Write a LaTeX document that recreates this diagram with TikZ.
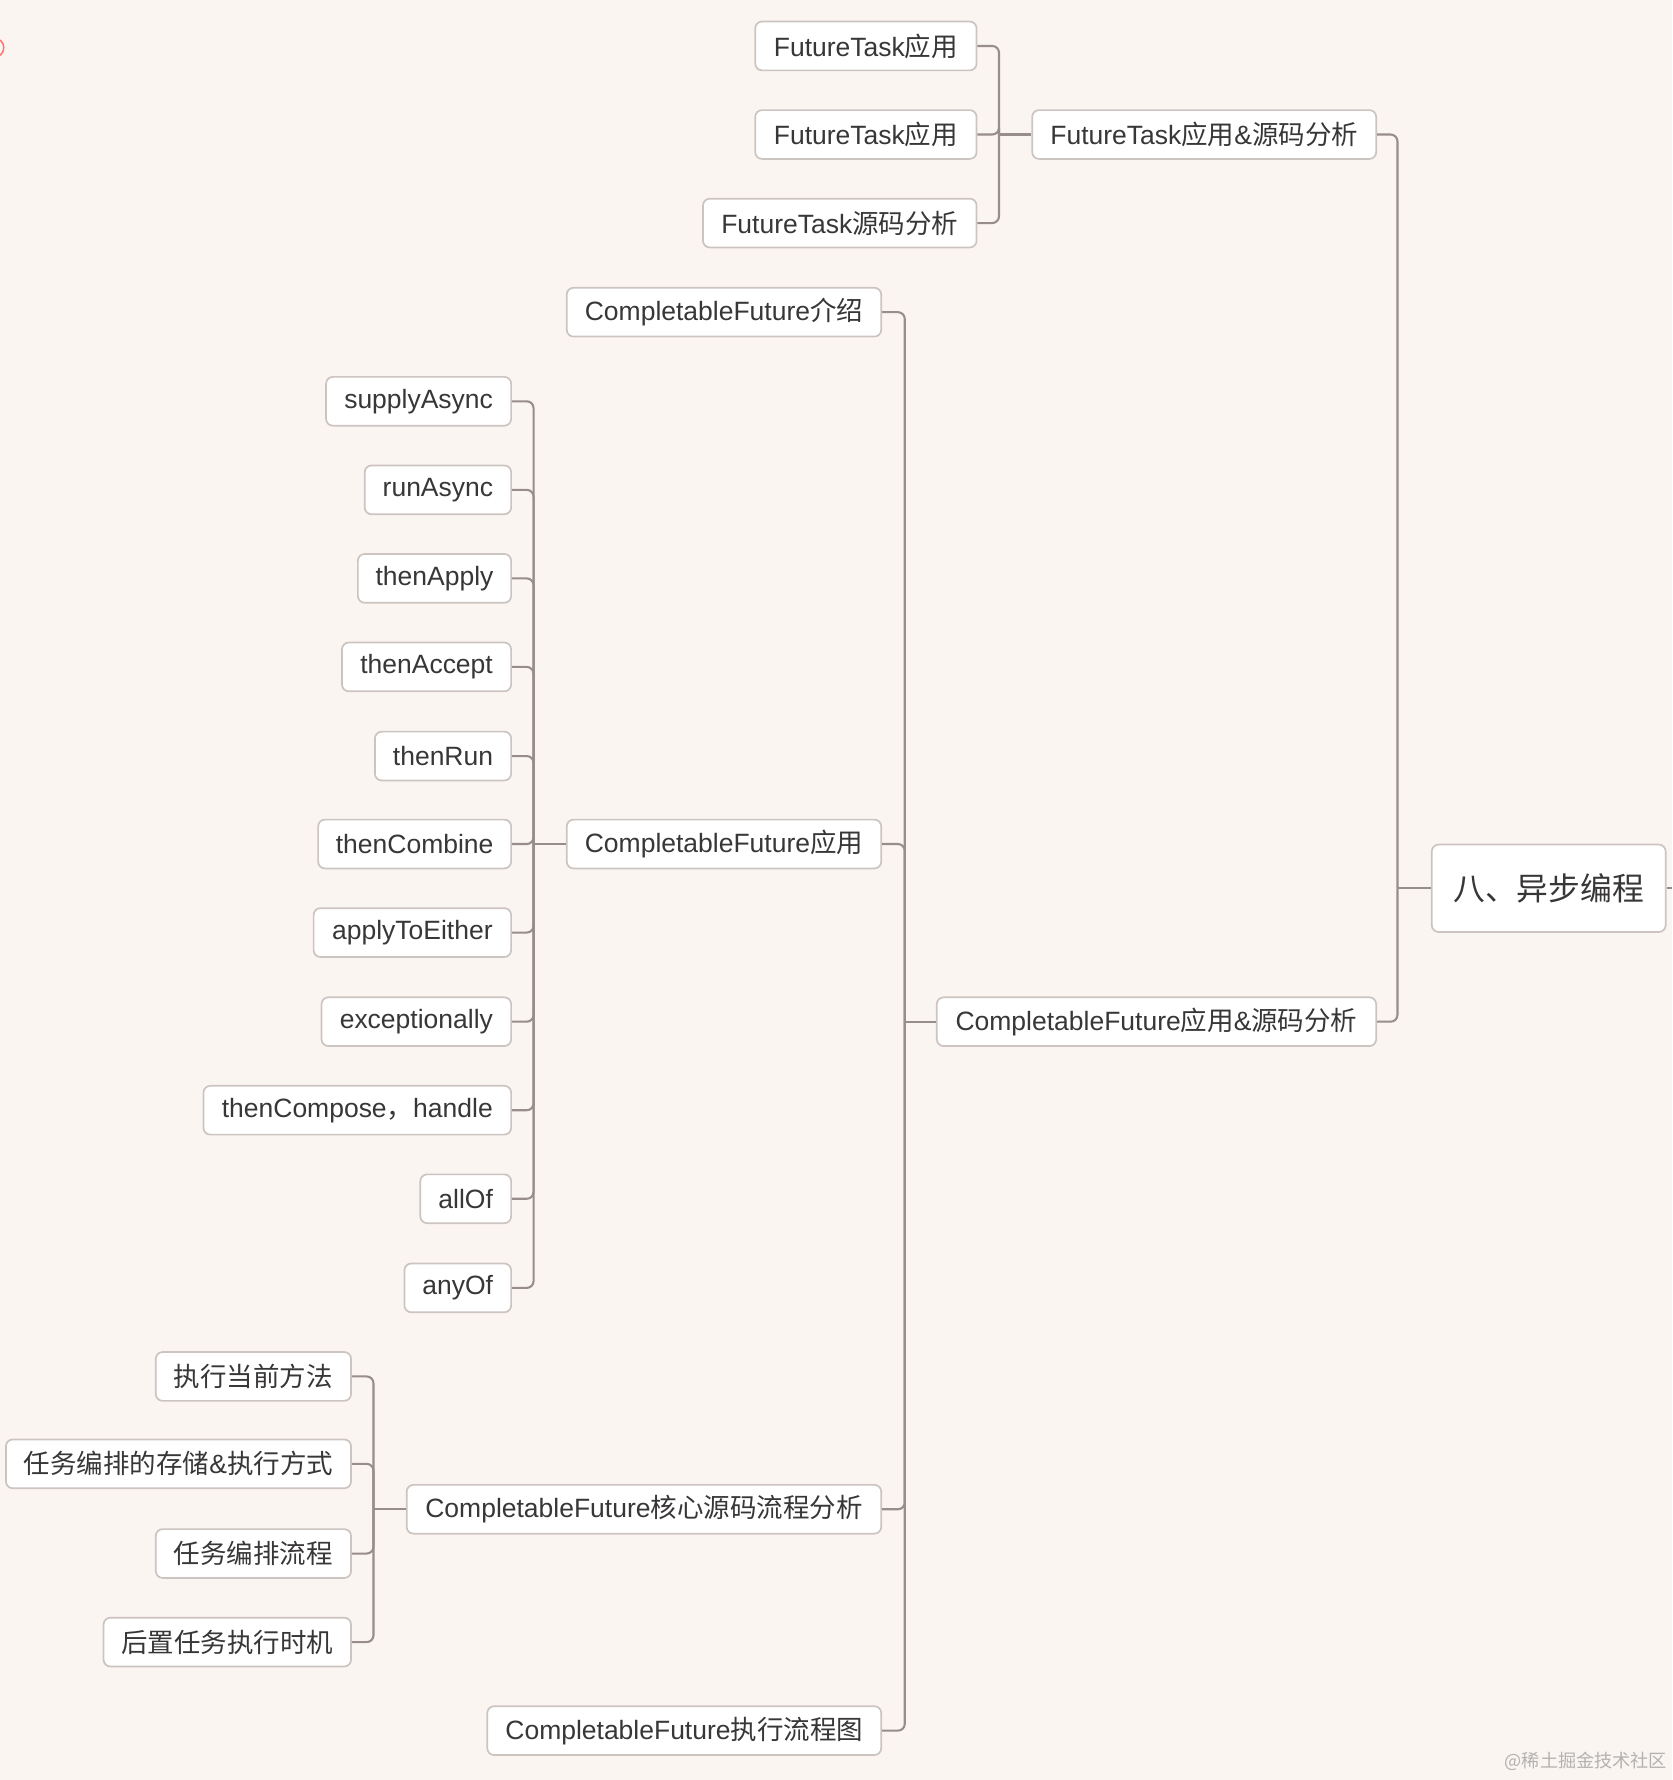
\documentclass[tikz,border=0pt]{standalone}
\usepackage{fontspec}
\setmainfont{Liberation Sans}
\newfontfamily\cjk{Noto Sans CJK SC}
\definecolor{bg}{HTML}{FBF5F2}
\definecolor{boxline}{HTML}{CCC4C0}
\definecolor{txt}{HTML}{383636}
\definecolor{wire}{HTML}{978D89}
\begin{document}
\begin{tikzpicture}[x=0.6pt,y=-0.6pt,
  box/.style={draw=boxline, fill=white, rounded corners=3.6pt, line width=0.9pt,
    minimum height=25.8pt, inner xsep=0pt, inner ysep=0pt, anchor=east, text=txt,
    font=\fontsize{14}{16}\selectfont},
  bw/.style={minimum width={#1*0.6pt}},
  conn/.style={draw=wire, line width=1.1pt, rounded corners=3.6pt}]
\useasboundingbox (0,0) rectangle (1473,1568);
\fill[bg] (0,0) rectangle (1473,1568);
\draw[red!55, line width=0.8pt] (-5,42) circle[radius=5pt];

% root
\node[box, bw=206, minimum height=46.2pt, font=\fontsize{16.8}{19}\selectfont] (root) at (1468,782.5) {\cjk 八、异步编程};
\coordinate (rootout) at (1473,782.5);
\draw[conn] (root.east) -- (rootout);

% level 1
\node[box, bw=303] (ft) at (1213,118.5) {FutureTask{\cjk 应用}\&{\cjk 源码分析}};
\node[box, bw=387] (cfs) at (1213,900) {CompletableFuture{\cjk 应用}\&{\cjk 源码分析}};

% FutureTask children
\node[box, bw=195] (ft1) at (861,40.5) {FutureTask{\cjk 应用}};
\node[box, bw=195] (ft2) at (861,118.5) {FutureTask{\cjk 应用}};
\node[box, bw=241] (ft3) at (861,196.5) {FutureTask{\cjk 源码分析}};

% CompletableFuture children
\node[box, bw=277] (cfi) at (777,275) {CompletableFuture{\cjk 介绍}};
\node[box, bw=277] (cfa) at (777,743.5) {CompletableFuture{\cjk 应用}};
\node[box, bw=418] (cfk) at (777,1329.5) {CompletableFuture{\cjk 核心源码流程分析}};
\node[box, bw=347] (cfe) at (777,1524.5) {CompletableFuture{\cjk 执行流程图}};

% application children
\node[box, bw=163] (a1) at (451,353.5) {supplyAsync};
\node[box, bw=129] (a2) at (451,431.5) {runAsync};
\node[box, bw=135] (a3) at (451,509.5) {thenApply};
\node[box, bw=149] (a4) at (451,587.5) {thenAccept};
\node[box, bw=120] (a5) at (451,666) {thenRun};
\node[box, bw=170] (a6) at (451,743.5) {thenCombine};
\node[box, bw=174] (a7) at (451,821.5) {applyToEither};
\node[box, bw=167] (a8) at (451,900) {exceptionally};
\node[box, bw=271] (a9) at (451,978) {thenCompose{\cjk ，}handle};
\node[box, bw=80] (a10) at (451,1056) {allOf};
\node[box, bw=94] (a11) at (451,1134.5) {anyOf};

% core children
\node[box, bw=172] (k1) at (310,1212.5) {\cjk 执行当前方法};
\node[box, bw=304] (k2) at (310,1289.5) {{\cjk 任务编排的存储}\&{\cjk 执行方式}};
\node[box, bw=172] (k3) at (310,1368.5) {\cjk 任务编排流程};
\node[box, bw=218] (k4) at (310,1446.5) {\cjk 后置任务执行时机};

% junctions
\coordinate (jr) at (1231,782.5);
\coordinate (jf) at (880,118.5);
\coordinate (jc) at (797,900);
\coordinate (ja) at (470,743.5);
\coordinate (jk) at (329,1329.5);

% connectors
\draw[conn] (ft.east) -| (jr);
\draw[conn] (cfs.east) -| (jr);
\draw[conn] (jr) -- (root.west);

\foreach \c in {ft1,ft2,ft3} \draw[conn] (\c.east) -| (jf);
\draw[conn] (jf) -- (ft.west);

\foreach \c in {cfi,cfa,cfk,cfe} \draw[conn] (\c.east) -| (jc);
\draw[conn] (jc) -- (cfs.west);

\foreach \c in {a1,a2,a3,a4,a5,a6,a7,a8,a9,a10,a11} \draw[conn] (\c.east) -| (ja);
\draw[conn] (ja) -- (cfa.west);

\foreach \c in {k1,k2,k3,k4} \draw[conn] (\c.east) -| (jk);
\draw[conn] (jk) -- (cfk.west);

% watermark
\node[text=black!30, font=\cjk\fontsize{9.6}{11}\selectfont, inner sep=0pt] (wm) at (1397,1552) {@稀土掘金技术社区};
\end{tikzpicture}
\end{document}
